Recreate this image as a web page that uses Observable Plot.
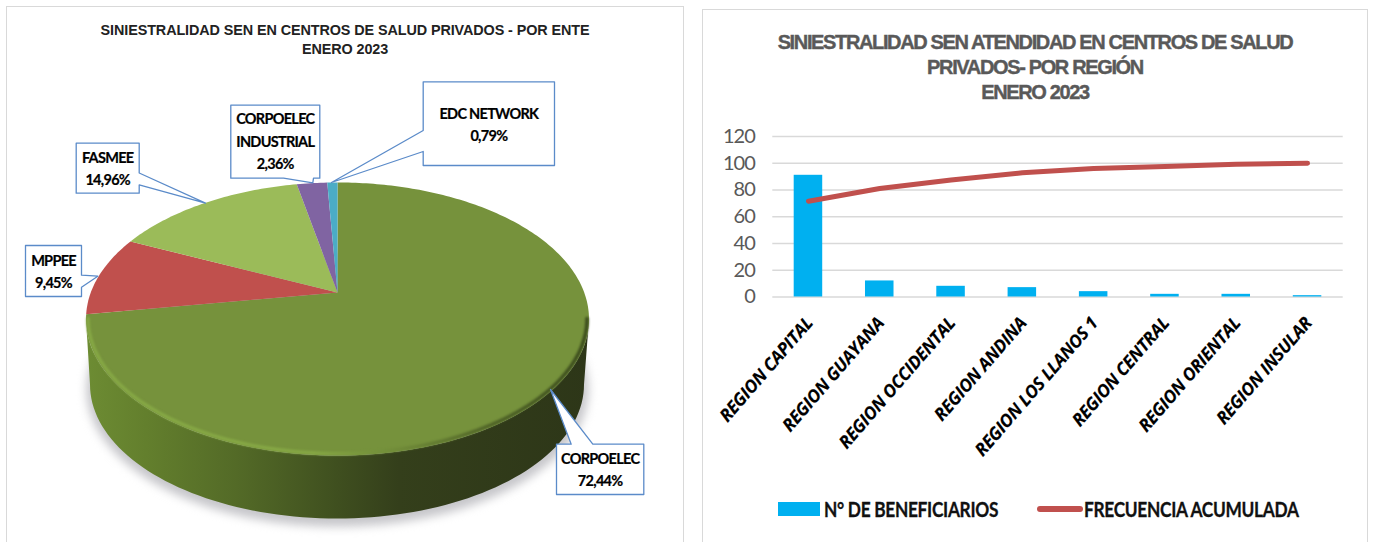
<!DOCTYPE html>
<html lang="es">
<head>
<meta charset="utf-8">
<script src="https://cdn.jsdelivr.net/npm/d3@7"></script>
<script src="https://cdn.jsdelivr.net/npm/@observablehq/plot@0.6"></script>
<style>
  html,body{margin:0;padding:0;background:#fff;width:1374px;height:542px;overflow:hidden}
  .panel{position:absolute;border:1.5px solid #d9d9d9;box-sizing:border-box;background:#fff}
  .abs{position:absolute}
  .abs svg{display:block}
  .t{position:absolute;white-space:nowrap;transform:translate(-50%,-50%)}
  .t1{font:bold 14.4px "Liberation Sans",Arial,sans-serif;color:#222;letter-spacing:-.1px}
  .t2{font:bold 20px "Liberation Sans",Arial,sans-serif;color:#595959;letter-spacing:-1.36px;-webkit-text-stroke:.4px #595959}
  .lg{position:absolute;font:bold 20px Lato,sans-serif;color:#111;white-space:nowrap;transform:translateY(-50%) scaleX(.865);transform-origin:left center;letter-spacing:-.35px;-webkit-text-stroke:.3px #111}
  .sw{position:absolute}
  #pie text{letter-spacing:-.72px;stroke:#000;stroke-width:.2px}
  .ytick text{letter-spacing:-1px}
  .xtick, .xtick text{font-family:"Open Sans",sans-serif !important;font-style:italic !important;stroke:#000;stroke-width:.15px;letter-spacing:-.3px}
</style>
</head>
<body>
<div class="panel" style="left:6px;top:6px;width:678px;height:560px"></div>
<div class="panel" style="left:702px;top:9px;width:666px;height:560px"></div>
<div id="pie" class="abs" style="left:0;top:0"></div>
<div id="bars" class="abs" style="left:695px;top:0"></div>

<div class="t t1" style="left:345px;top:30px">SINIESTRALIDAD SEN EN CENTROS DE SALUD PRIVADOS - POR ENTE</div>
<div class="t t1" style="left:345px;top:48.5px">ENERO 2023</div>
<div class="t t2" style="left:1035px;top:41.5px">SINIESTRALIDAD SEN ATENDIDAD EN CENTROS DE SALUD</div>
<div class="t t2" style="left:1035px;top:66.5px">PRIVADOS- POR REGIÓN</div>
<div class="t t2" style="left:1035px;top:91.5px">ENERO 2023</div>

<div class="sw" style="left:778px;top:502px;width:42px;height:14px;background:#00b0f0"></div>
<div class="lg" style="left:824px;top:509px">N° DE BENEFICIARIOS</div>
<div class="sw" style="left:1037px;top:506px;width:46px;height:5.5px;border-radius:3px;background:#c0504d"></div>
<div class="lg" style="left:1083.5px;top:509px">FRECUENCIA ACUMULADA</div>

<script>
// ---------- data ----------
const entes = ["CORPOELEC", "MPPEE", "FASMEE", "CORPOELEC INDUSTRIAL", "EDC NETWORK"];
const shares = [72.44, 9.45, 14.96, 2.36, 0.79];
const shareLabels = ["72,44%", "9,45%", "14,96%", "2,36%", "0,79%"];
const sliceColors = ["#76923c", "#c0504d", "#9bbb59", "#8064a2", "#4bacc6"];

const regions = ["REGION CAPITAL", "REGION GUAYANA", "REGION OCCIDENTAL", "REGION ANDINA",
                 "REGION LOS LLANOS 1", "REGION CENTRAL", "REGION ORIENTAL", "REGION INSULAR"];
const beneficiarios = [91, 12, 8, 7, 4, 2, 2, 1];
const acumulada = [71.65, 81.1, 87.4, 92.9, 96.06, 97.6, 99.2, 100];
const yTicks = [0, 20, 40, 60, 80, 100, 120];

// ---------- pie layout: a tilted, perspective disc ----------
const persp = -0.194, halfW = 246.7, halfH = 131.4, apex = [337, 292];
const rimTop = {cx: 337, cy: 318.5, rx: 251.5, ry: 136.5};
const rimBot = {cx: 336.5, cy: 384, rx: 247, ry: 134};
function project(deg) {
  const a = deg * Math.PI / 180, X = Math.sin(a), Y = -Math.cos(a), den = 1 + persp * Y;
  return [apex[0] + halfW * X / den, apex[1] + halfH * Y / den];
}
const slicePts = [];
{
  let acc = 0;
  shares.forEach((s, i) => {
    const a0 = acc * 3.6, a1 = (acc + s) * 3.6;
    slicePts.push({k: entes[i], x: apex[0], y: apex[1]});
    const n = Math.max(2, Math.ceil(a1 - a0));
    for (let j = 0; j <= n; ++j) {
      const [x, y] = project(a0 + (a1 - a0) * j / n);
      slicePts.push({k: entes[i], x, y});
    }
    acc += s;
  });
}
const arcPts = (e, from, to) => d3.range(from, to + 0.01, 2).map(p => ({
  x: e.cx + e.rx * Math.cos(p * Math.PI / 180),
  y: e.cy + e.ry * Math.sin(p * Math.PI / 180)
}));
const wallPts = [...arcPts(rimTop, 0, 180), ...arcPts(rimBot, 0, 180).reverse()];
const shadowPts = arcPts({cx: 337, cy: 389, rx: 251, ry: 137}, 0, 360);
const bevelPts = arcPts({cx: 337, cy: 318, rx: 249.5, ry: 135}, 0, 180);

// callout outlines: box corners with the pointer tail spliced in
const callouts = [
  {i: 2, lines: ["FASMEE"], box: [75.7, 138.7, 142.7, 192.7], lineY: 157.5,
   path: [[75.7,142.7],[138.7,142.7],[138.7,172.5],[205,202.7],[138.7,184.3],[138.7,192.7],[75.7,192.7]]},
  {i: 1, lines: ["MPPEE"], box: [25, 81, 245, 296], lineY: 260.5,
   path: [[25,245],[81,245],[81,274.7],[97.3,275.7],[81,286.7],[81,296],[25,296]]},
  {i: 3, lines: ["CORPOELEC", "INDUSTRIAL"], box: [230.3, 319.3, 104.7, 177.7], lineY: 119,
   path: [[230.3,104.7],[319.3,104.7],[319.3,177.7],[313,177.7],[312.3,182.3],[283,177.7],[230.3,177.7]]},
  {i: 4, lines: ["EDC NETWORK"], box: [422.7, 554, 81.3, 165], lineY: 113.5,
   path: [[422.7,81.3],[554,81.3],[554,165],[422.7,165],[422.7,151],[331,182],[422.7,130]]},
  {i: 0, lines: ["CORPOELEC"], box: [556, 643.3, 443.7, 494], lineY: 458.5,
   path: [[556,443.7],[570.7,443.7],[550,389],[592.3,443.7],[643.3,443.7],[643.3,494],[556,494]]}
];
const calloutPts = callouts.flatMap((c, n) => c.path.map(([x, y]) => ({n, x, y})));
const calloutText = callouts.flatMap(c => [...c.lines, shareLabels[c.i]].map((t, j) => ({
  t, x: (c.box[0] + c.box[1]) / 2, y: c.lineY + j * 22.6
})));

function gradient(id, stops) {
  return () => {
    const g = d3.create("svg:defs");
    const lg = g.append("linearGradient").attr("id", id).attr("gradientUnits", "userSpaceOnUse")
      .attr("x1", 85).attr("x2", 590).attr("y1", 0).attr("y2", 0);
    stops.forEach(([o, c]) => lg.append("stop").attr("offset", o).attr("stop-color", c));
    return g.node();
  };
}

const pie = Plot.plot({
  width: 690, height: 542, margin: 0,
  x: {type: "identity", axis: null}, y: {type: "identity", axis: null},
  color: {domain: entes, range: sliceColors},
  style: {fontFamily: "Lato, sans-serif", background: "transparent"},
  marks: [
    gradient("wallG", [[0, "#6d8c33"], [0.12, "#637f2d"], [0.3, "#536a27"], [0.5, "#3f4f1f"], [0.62, "#343f1b"], [1, "#2d3618"]]),
    gradient("bevelG", [[0, "#86a845"], [0.45, "#86a845"], [0.62, "#6f8a38"], [0.8, "#4f6327"], [1, "#3a4a1c"]]),
    Plot.line(shadowPts, {x: "x", y: "y", fill: "#c6c6ca", stroke: "none", imageFilter: "blur(5px)"}),
    Plot.line(wallPts, {x: "x", y: "y", fill: "url(#wallG)", stroke: "none"}),
    Plot.line(slicePts, {x: "x", y: "y", z: "k", fill: "k", stroke: "none"}),
    Plot.line(bevelPts, {x: "x", y: "y", stroke: "url(#bevelG)", strokeWidth: 3.5, imageFilter: "blur(1px)"}),
    Plot.line(calloutPts, {x: "x", y: "y", z: "n", fill: "#fff", stroke: "#5b8bc9", strokeWidth: 1.3, curve: "linear-closed"}),
    Plot.text(calloutText, {x: "x", y: "y", text: "t", fontSize: 14.5, fontWeight: "bold", fill: "#000", textAnchor: "middle"})
  ]
});
document.getElementById("pie").append(pie);

// ---------- bars + cumulative line ----------
const rows = regions.map((r, i) => ({region: r, n: beneficiarios[i], acc: acumulada[i]}));
const bars = Plot.plot({
  width: 679, height: 480,
  marginLeft: 77.3, marginRight: 31.3, marginTop: 136, marginBottom: 183.5,
  x: {domain: regions, paddingInner: 0.6, paddingOuter: 0.3, round: false, label: null},
  y: {domain: [0, 120], label: null},
  style: {fontFamily: "Lato, sans-serif", background: "transparent"},
  marks: [
    Plot.ruleY(yTicks, {stroke: "#d9d9d9", strokeWidth: 1.5}),
    Plot.barY(rows, {x: "region", y: "n", fill: "#00b0f0"}),
    Plot.line(rows, {x: "region", y: "acc", stroke: "#c0504d", strokeWidth: 5, strokeLinecap: "round"}),
    Plot.axisY({ticks: yTicks, tickSize: 0, tickPadding: 18, fontSize: 20, fill: "#595959", label: null, className: "ytick"}),
    Plot.axisX({tickSize: 0, tickPadding: 23, tickRotate: -49, fontSize: 17.5, fontWeight: "bold",
                fill: "#000", label: null, dx: 1, textAnchor: "end", className: "xtick"})
  ]
});
document.getElementById("bars").append(bars);
</script>
</body>
</html>
